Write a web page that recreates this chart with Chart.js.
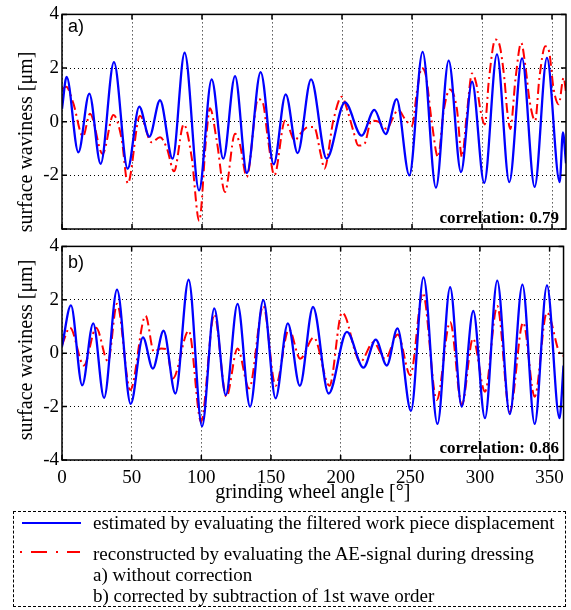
<!DOCTYPE html>
<html>
<head>
<meta charset="utf-8">
<script src="https://cdn.jsdelivr.net/npm/chart.js@4.4.1/dist/chart.umd.min.js"></script>
<style>
  body { margin: 0; background: #fff; }
  #wrap { position: relative; width: 571px; height: 610px; overflow: hidden; font-family: "Liberation Serif", serif; color: #000; }
  .abs { position: absolute; white-space: nowrap; }
  .ytitle { width: 240px; height: 24px; line-height: 24px; font-size: 20px; text-align: center; transform: rotate(-90deg); }
  .panel { font-family: "Liberation Sans", sans-serif; font-size: 18px; height: 22px; line-height: 22px; }
  .corr { font-weight: bold; font-size: 17px; height: 20px; line-height: 20px; text-align: right; }
  .leg { font-size: 19px; height: 22px; line-height: 22px; }
  #bottomBox { position: absolute; left: 0; top: 232px; width: 571px; height: 278px; background: #fff; }
  #legendBox { position: absolute; left: 13px; top: 511px; width: 553px; height: 96px; box-sizing: border-box; border: 1.5px dashed #000; }
</style>
</head>
<body>
<div id="wrap">
  <canvas id="chartA" width="571" height="252" style="position:absolute;left:0;top:0"></canvas>
  <div class="abs ytitle" style="left:-95px;top:130px">surface waviness [μm]</div>
  <div id="bottomBox"><canvas id="chartB" width="571" height="278"></canvas></div>
  <div class="abs ytitle" style="left:-95px;top:338px">surface waviness [μm]</div>

  <div class="abs panel" style="left:68px;top:15px">a)</div>
  <div class="abs panel" style="left:68px;top:251px">b)</div>
  <div class="abs corr" style="right:12px;top:208px">correlation: 0.79</div>
  <div class="abs corr" style="right:12px;top:438px">correlation: 0.86</div>

  <div id="legendBox"></div>
  <svg class="abs" style="left:20px;top:518px" width="62" height="10">
    <line x1="2" y1="5" x2="61" y2="5" stroke="#0000ff" stroke-width="2"/>
  </svg>
  <div class="abs leg" style="left:93px;top:512px">estimated by evaluating the filtered work piece displacement</div>
  <svg class="abs" style="left:20px;top:547px" width="62" height="10">
    <line x1="0" y1="5" x2="60" y2="5" stroke="#ff0000" stroke-width="2" stroke-dasharray="2 9 16 9"/>
  </svg>
  <div class="abs leg" style="left:93px;top:543px">reconstructed by evaluating the AE-signal during dressing</div>
  <div class="abs leg" style="left:93px;top:564px">a) without correction</div>
  <div class="abs leg" style="left:93px;top:585px">b) corrected by subtraction of 1st wave order</div>
</div>

<script>
// panel a) – without correction
const aAngBlue = [0, 3.3, 11.7, 19.5, 27.6, 37.1, 46.9, 55.2, 62.4, 70, 79, 87.6, 97.9, 106.9, 115.2,
  123.6, 132.1, 141.9, 151.2, 159.8, 168.3, 177.9, 189, 202.1, 214, 223.1, 231.2, 239, 248.1, 257.6,
  267.1, 276.2, 285, 292.9, 301.6, 310.7, 319.5, 328.6, 337.6, 346.4, 355.5, 357.8, 360];
const aBlue = [0.48, 1.67, -1.14, 1.05, -1.57, 2.22, -1.75, 0.56, -0.56, 0.8, -1.38, 2.57, -2.56, 1.58, -1.38,
  1.7, -1.91, 1.85, -1.59, 1.02, -1.17, 1.58, -1.38, 0.72, -0.52, 0.44, -0.46, 0.84, -2.0, 2.6,
  -2.46, 2.28, -1.88, 1.49, -2.28, 2.51, -2.25, 2.36, -2.43, 2.38, -2.25, -0.4, -1.55];

const aAngRed = [0, 3, 8, 15, 20, 29, 36.7, 42.6, 47, 55.7, 64, 70, 75, 80, 87, 92.6, 98, 103, 105.7, 110.5,
  116.4, 123.6, 127, 132, 140, 143.5, 147, 151.7, 159.3, 166.4, 170, 176, 180, 185, 187.4, 193.8, 199.8,
  204, 208, 211.7, 216, 221, 226, 232, 236, 240, 245, 250, 253.6, 257, 260, 264, 268.6, 272.6, 277, 282,
  285.7, 289, 292.9, 296, 299, 302, 305, 309.5, 312, 316, 318, 320.2, 324, 328, 331, 334, 338, 341, 345.2,
  348, 351, 354.8, 358.3, 360];
const aRed = [1.21, 1.3, 0.7, -0.55, 0.3, -1.2, 0.25, -0.64, -2.3, 0.22, -0.77, -0.58, -1.0, -1.85, -0.1, -1.32, -3.7, -0.58, 0.5, -0.7,
  -2.62, -0.45, -0.83, -2.06, 0.84, 0.7, -0.6, -2.0, 0.04, -0.7, -0.46, -0.2, -0.2, -1.26, -1.75, 0.04, 0.93,
  0.4, -0.33, -0.89, -0.83, 0.04, 0.0, -0.27, 0.1, 0.45, 0.1, -0.15, 1.15, 2.0, 1.7, 0.04, -1.32, 0.4, 1.2, 0.5,
  -1.32, 0.2, 1.8, 1.4, 0.4, -0.1, 1.6, 3.06, 2.95, 1.6, 0.4, -0.27, 1.64, 2.94, 2.07, 0.78, 0.04, 1.64, 2.81,
  2.6, 1.27, 0.65, 1.64, 1.1];

// panel b) – corrected by subtraction of 1st wave order
const bAngBlue = [0, 6.4, 14.5, 22.4, 30.2, 39.5, 49.3, 58.1, 65.2, 72.9, 81.4, 90.9, 100.5, 109.3, 117.6,
  126, 135, 144.5, 153.3, 162.1, 170.7, 180.2, 191.4, 204.5, 216.4, 225.2, 233.1, 240.8, 250.5, 259.5,
  269.5, 278.6, 286.9, 295.2, 303.6, 312.4, 321.4, 330.5, 339.3, 348.1, 357.1, 360];
const bBlue = [0.25, 1.79, -1.2, 1.12, -1.67, 2.38, -1.9, 0.59, -0.58, 0.84, -1.51, 2.75, -2.74, 1.68, -1.57,
  1.85, -2.0, 1.99, -1.69, 1.12, -1.22, 1.73, -1.51, 0.8, -0.54, 0.51, -0.46, 0.93, -2.16, 2.84,
  -2.65, 2.47, -2.0, 1.58, -2.43, 2.72, -2.28, 2.57, -2.65, 2.54, -2.43, -0.46];

const bAngRed = [0, 5.7, 15.7, 24.5, 33, 39.5, 49, 60, 66, 71, 75, 79.5, 91, 99.8, 109.3, 118, 126, 134.3,
  144.5, 153.3, 162.9, 171, 180.7, 192, 201, 204, 210.5, 214, 223.6, 232, 241, 250, 259, 269, 278.6, 287,
  295, 303.6, 312.4, 321.4, 331, 339.3, 348, 358.4, 360];
const bRed = [0.3, 0.96, -0.46, 0.95, -0.3, 1.85, -1.38, 1.4, 0.05, 0.18, 0.15, -0.95, 0.84, -2.56, 1.46, -1.63, 0.18, -1.32,
  1.77, -1.22, 0.9, -0.21, 0.59, -1.22, 1.52, 1.3, 0.04, -0.33, 0.41, -0.21, 0.7, -0.83, 2.26, -1.75, 1.17, -1.94,
  0.55, -1.44, 1.77, -2.19, 1.15, -1.63, 1.52, -0.09, -0.1];

const xTicks = [0, 50, 100, 150, 200, 250, 300, 350];
const yTicks = [-4, -2, 0, 2, 4];

Chart.defaults.font.family = "Liberation Serif";
Chart.defaults.color = "#000";

function pts(xs, ys) {
  return xs.map((v, i) => ({ x: v, y: ys[i] }));
}

// frame around the axes with small inner ticks on all four sides
const boxPlugin = {
  id: "box",
  afterDraw(chart) {
    const { ctx, chartArea: a, scales } = chart;
    ctx.save();
    ctx.strokeStyle = "#000";
    ctx.lineWidth = 1.5;
    ctx.strokeRect(a.left, a.top, a.right - a.left, a.bottom - a.top);
    ctx.beginPath();
    xTicks.forEach(v => {
      const px = scales.x.getPixelForValue(v);
      ctx.moveTo(px, a.bottom); ctx.lineTo(px, a.bottom - 5);
      ctx.moveTo(px, a.top); ctx.lineTo(px, a.top + 5);
    });
    yTicks.forEach(v => {
      const py = scales.y.getPixelForValue(v);
      ctx.moveTo(a.left, py); ctx.lineTo(a.left + 5, py);
      ctx.moveTo(a.right, py); ctx.lineTo(a.right - 5, py);
    });
    ctx.stroke();
    ctx.restore();
  }
};

function makeChart(id, blueX, blueY, redX, redY, bottom) {
  const ctx = document.getElementById(id).getContext("2d");
  return new Chart(ctx, {
    type: "line",
    data: {
      datasets: [
        {
          label: "estimated",
          data: pts(blueX, blueY),
          borderColor: "#0000ff",
          borderWidth: 2.3,
          cubicInterpolationMode: "monotone",
          pointRadius: 0
        },
        {
          label: "reconstructed",
          data: pts(redX, redY),
          borderColor: "#ff0000",
          borderWidth: 2,
          borderDash: [10, 4, 2, 4],
          cubicInterpolationMode: "monotone",
          pointRadius: 0
        }
      ]
    },
    options: {
      responsive: false,
      animation: false,
      devicePixelRatio: 1,
      layout: { padding: { top: bottom ? 11 : 13, right: 5, left: 0, bottom: 0 } },
      plugins: { legend: { display: false }, tooltip: { enabled: false } },
      scales: {
        x: {
          type: "linear",
          min: 0,
          max: 360,
          afterBuildTicks: s => { s.ticks = xTicks.map(v => ({ value: v })); },
          afterFit: s => { s.height = bottom ? 50 : 23; },
          grid: { color: "#000", lineWidth: 1, drawTicks: false },
          border: { display: false, dash: [1, 3] },
          ticks: { display: bottom, padding: 7, font: { size: 19 } },
          title: {
            display: bottom,
            text: "grinding wheel angle [°]",
            font: { size: 20 },
            padding: { top: 0, bottom: 5 }
          }
        },
        y: {
          min: -4,
          max: 4,
          afterBuildTicks: s => { s.ticks = yTicks.map(v => ({ value: v })); },
          afterFit: s => { s.width = 62; },
          grid: { color: "#000", lineWidth: 1, drawTicks: false },
          border: { display: false, dash: [1, 3] },
          ticks: {
            padding: 3,
            font: { size: 19 },
            callback: v => (!bottom && v === -4) ? "" : v
          }
        }
      }
    },
    plugins: [boxPlugin]
  });
}

makeChart("chartA", aAngBlue, aBlue, aAngRed, aRed, false);
makeChart("chartB", bAngBlue, bBlue, bAngRed, bRed, true);
</script>
</body>
</html>
